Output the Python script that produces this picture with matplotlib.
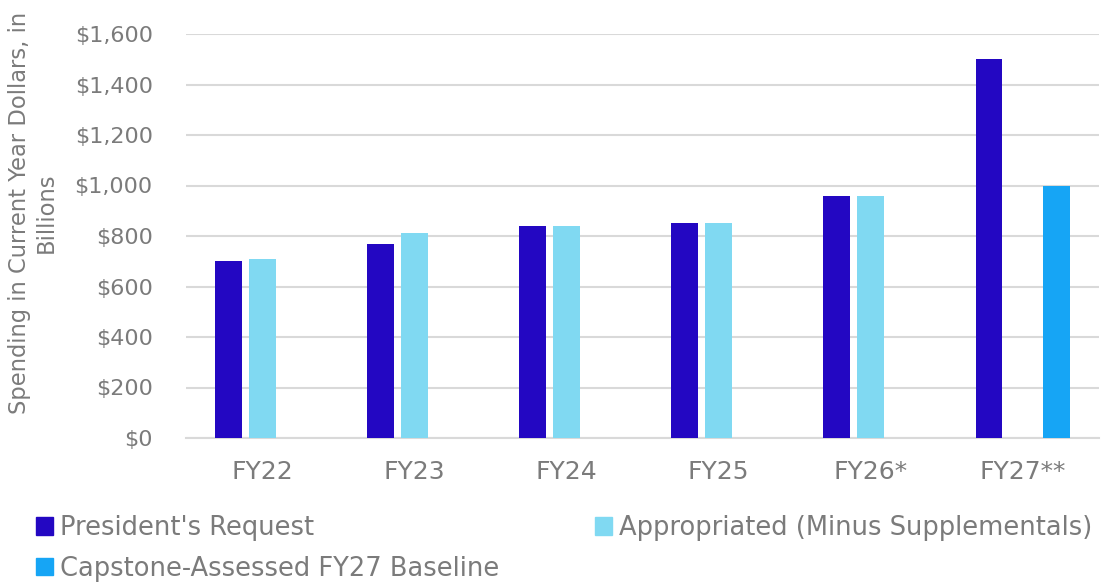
import matplotlib.pyplot as plt
import numpy as np
from matplotlib.patches import Patch
from matplotlib.ticker import FuncFormatter

# defense topline by fiscal year, billions of current-year dollars
years = ["FY22", "FY23", "FY24", "FY25", "FY26*", "FY27**"]
request = [700, 770, 840, 850, 960, 1500]
appropriated = [710, 810, 840, 850, 960, np.nan]
baseline = [np.nan, np.nan, np.nan, np.nan, np.nan, 1000]

c_request = "#2307c2"
c_approp = "#80d9f2"
c_base = "#16a5f5"
grey = "#7b7b7b"

fig = plt.figure(figsize=(11.07, 5.85), dpi=100)
ax = fig.add_axes([186 / 1107, 1 - 438 / 585, (1099 - 186) / 1107, 404 / 585])

x = np.arange(len(years))
step = 0.223
width = 0.177
ax.bar(x - step, request, width, color=c_request, zorder=3)
ax.bar(x, appropriated, width, color=c_approp, zorder=3)
ax.bar(x + step, baseline, width, color=c_base, zorder=3)

ax.set_xlim(-0.5, len(years) - 0.5)
ax.set_ylim(0, 1600)
ax.set_yticks(np.arange(0, 1601, 200))
ax.yaxis.set_major_formatter(FuncFormatter(lambda v, p: "${:,.0f}".format(v)))
ax.set_xticks(x)
ax.set_xticklabels(years)

ax.yaxis.grid(True, color="#d9d9d9", lw=1.5)
ax.set_axisbelow(True)
for s in ["top", "right", "left"]:
    ax.spines[s].set_visible(False)
ax.spines["bottom"].set_color("#d9d9d9")
ax.spines["bottom"].set_linewidth(1.5)

ax.tick_params(axis="both", length=0, colors=grey)
ax.tick_params(axis="y", pad=24, labelsize=16)
ax.tick_params(axis="x", pad=16, labelsize=18)

fig.text(33 / 1107, 1 - 213 / 585, "Spending in Current Year Dollars, in\nBillions",
         rotation=90, ha="center", va="center", multialignment="center",
         fontsize=16.3, color=grey, linespacing=1.2)

leg_kw = dict(frameon=False, fontsize=18.5, handlelength=0.65, handleheight=0.65,
              handletextpad=0.3, borderpad=0, borderaxespad=0, labelspacing=0.58,
              labelcolor=grey)
fig.legend(handles=[Patch(color=c_request), Patch(color=c_base)],
           labels=["President's Request", "Capstone-Assessed FY27 Baseline"],
           loc="upper left", bbox_to_anchor=(36 / 1107, 1 - 515 / 585), **leg_kw)
fig.legend(handles=[Patch(color=c_approp)],
           labels=["Appropriated (Minus Supplementals)"],
           loc="upper left", bbox_to_anchor=(595 / 1107, 1 - 515 / 585), **leg_kw)

fig.savefig("out.png", dpi=100)
